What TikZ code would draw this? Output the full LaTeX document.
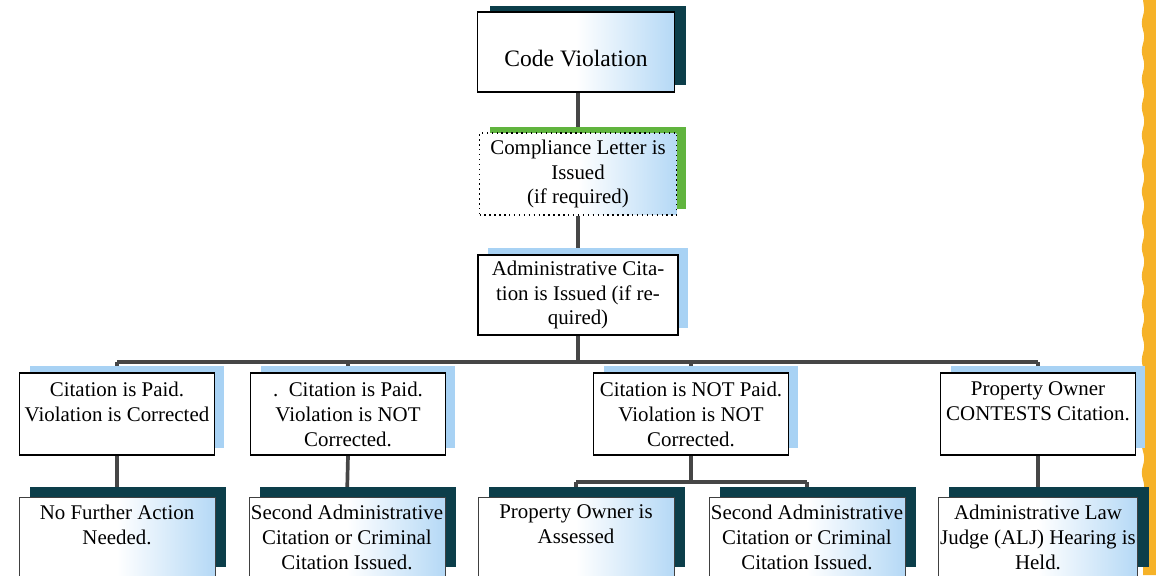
\documentclass[tikz,border=0pt]{standalone}
\usepackage{fontspec}
\setmainfont{Liberation Serif}
\usetikzlibrary{positioning,shadows,backgrounds,decorations.pathmorphing}

\definecolor{tealshadow}{RGB}{12,62,74}
\definecolor{leafgreen}{RGB}{96,180,62}
\definecolor{skyshadow}{RGB}{168,210,244}
\definecolor{linkgray}{RGB}{70,70,70}
\definecolor{edgeorange}{RGB}{246,178,40}
\newcommand{\chartfont}{\fontsize{11.9}{14.2}\selectfont}

\tikzset{chartbox/.style={shape=rectangle, draw=black, line width=.8pt, fill=white,
    align=center, inner sep=1pt, font=\chartfont}}
\tikzset{glow/.style={left color=white, right color=skyshadow!85, middle color=white}}
\tikzset{topbox/.style={chartbox, glow, minimum width=3.94cm, minimum height=1.6cm,
    drop shadow={shadow xshift=.24cm, shadow yshift=.13cm, fill=tealshadow, opacity=1}}}
\tikzset{letterbox/.style={chartbox, glow, dotted, line width=.6pt, minimum width=3.94cm, minimum height=1.64cm,
    drop shadow={shadow xshift=.2cm, shadow yshift=.12cm, fill=leafgreen, opacity=1}}}
\tikzset{citebox/.style={chartbox, minimum width=3.9cm, minimum height=1.64cm,
    drop shadow={shadow xshift=.2cm, shadow yshift=.15cm, fill=skyshadow, opacity=1}}}
\tikzset{endbox/.style={chartbox, glow, draw=black!75, line width=.5pt, minimum width=3.92cm, minimum height=1.6cm,
    drop shadow={shadow xshift=.22cm, shadow yshift=.2cm, fill=tealshadow, opacity=1}}}
\tikzset{link/.style={draw=linkgray, line width=2.1pt}}

\begin{document}
\begin{tikzpicture}[x=0.02cm, y=-0.02cm]
  \useasboundingbox (0,0) rectangle (1156,575);
  \clip (0,0) rectangle (1156,575);

  %%%% orange page edge
  \fill[edgeorange] (1156,0) -- (1143,0)
    decorate[decoration={snake, amplitude=.7pt, segment length=16pt}] {-- (1143,575)}
    -- (1156,575) -- cycle;

  %%%% top of chart
  \node[topbox, text height=.6cm] (cv) at (576,52) {\fontsize{13.4}{16}\selectfont Code Violation};
  \node[letterbox] (cl) at (578,174) {Compliance Letter is\\Issued\\(if required)};
  \node[citebox, minimum width=4cm, minimum height=1.6cm] (ac) at (578,295)
    {Administrative Cita-\\tion is Issued (if re-\\quired)};

  %%%% second row
  \node[citebox] (b1) at (117,414) {Citation is Paid.\\Violation is Corrected\\ \mbox{}};
  \node[citebox] (b2) at (348,414) {.\ \ Citation is Paid.\\Violation is NOT\\Corrected.};
  \node[citebox] (b3) at (691,414) {Citation is NOT Paid.\\Violation is NOT\\Corrected.};
  \node[citebox] (b4) at (1038,414) {Property Owner\\CONTESTS Citation.\\ \mbox{}};

  %%%% third row
  \node[endbox] (c1) at (117,537) {No Further Action\\Needed.\\ \mbox{}};
  \node[endbox] (c2) at (347,537) {Second Administrative\\Citation or Criminal\\Citation Issued.};
  \node[endbox] (c3) at (576,537) {Property Owner is\\Assessed\\ \mbox{}};
  \node[endbox] (c4) at (807,537) {Second Administrative\\Citation or Criminal\\Citation Issued.};
  \node[endbox] (c5) at (1038,537) {Administrative Law\\Judge (ALJ) Hearing is\\Held.};

  %%%% connectors
  \begin{scope}[on background layer]
    \coordinate (bus) at (0,362);
    \coordinate (fork) at (0,482);
    \draw[link] (cl.north |- cv.south) -- (cl.north);
    \draw[link] (cl.south) -- (ac.north);
    \draw[link] (ac.south) -- (ac.south |- bus);
    \draw[link] (b1.north |- bus) -- (b4.north |- bus);
    \draw[link] (b1.north |- bus) -- (b1.north);
    \draw[link] (b2.north |- bus) -- (b2.north);
    \draw[link] (b3.north |- bus) -- (b3.north);
    \draw[link] (b4.north |- bus) -- (b4.north);

    \draw[link] (b1.south) -- (c1.north);
    \draw[link] (b2.south) -- (c2.north);
    \draw[link] (b4.south) -- (c5.north);
    \draw[link] (b3.south) -- (b3.south |- fork);
    \draw[link] (c3.north |- fork) -- (c4.north |- fork);
    \draw[link] (c3.north |- fork) -- (c3.north);
    \draw[link] (c4.north |- fork) -- (c4.north);
  \end{scope}
\end{tikzpicture}
\end{document}
